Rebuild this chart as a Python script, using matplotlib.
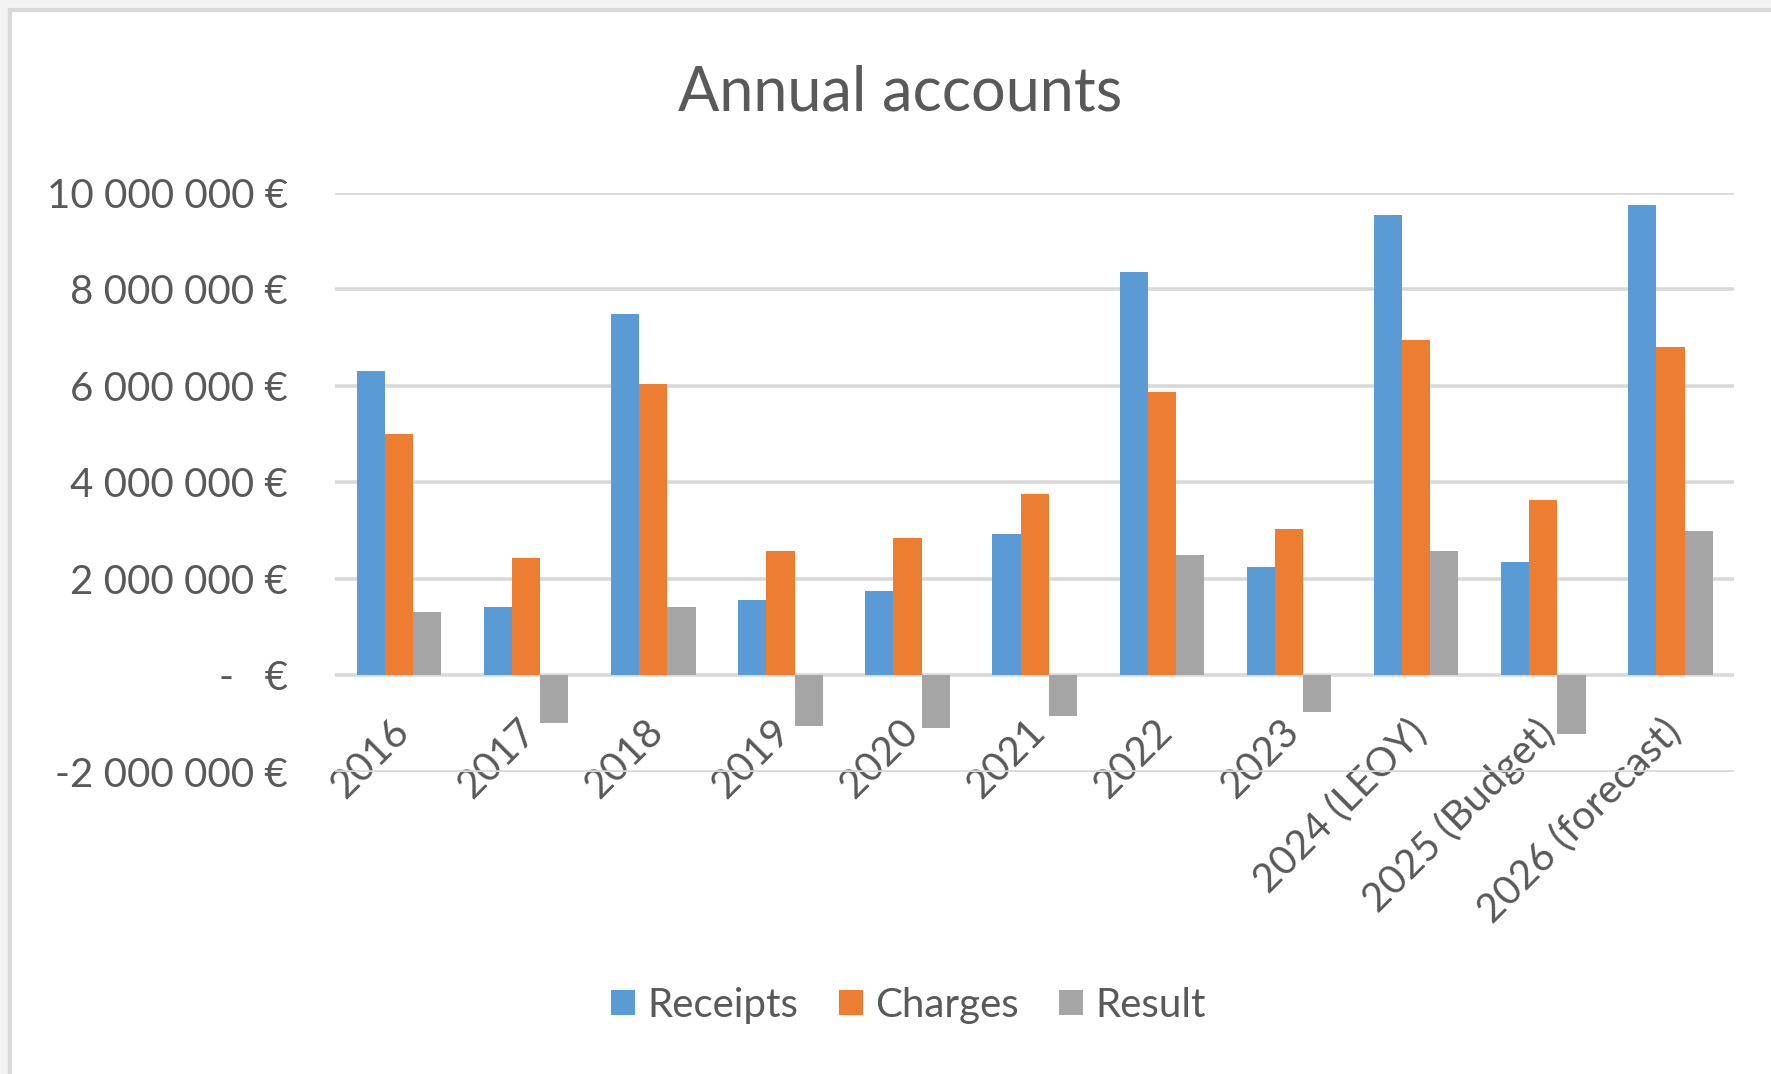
import matplotlib.pyplot as plt
from matplotlib.patches import Rectangle
from matplotlib.transforms import ScaledTranslation
import numpy as np

# data (euros)
categories = ['2016', '2017', '2018', '2019', '2020', '2021', '2022', '2023',
              '2024 (LEOY)', '2025 (Budget)', '2026 (forecast)']
receipts = [6310000, 1410000, 7500000, 1560000, 1760000, 2930000, 8370000,
            2250000, 9550000, 2350000, 9760000]
charges = [5000000, 2440000, 6050000, 2580000, 2840000, 3760000, 5870000,
           3030000, 6960000, 3630000, 6810000]
result = [1310000, -990000, 1410000, -1040000, -1090000, -840000, 2500000,
          -750000, 2580000, -1220000, 2990000]
y_ticks = [-2000000, 0, 2000000, 4000000, 6000000, 8000000, 10000000]
y_labels = ['-2 000 000 €', '-   €', '2 000 000 €', '4 000 000 €',
            '6 000 000 €', '8 000 000 €', '10 000 000 €']

plt.rcParams['font.family'] = ['Lato', 'DejaVu Sans']
text_color = '#595959'
grid_color = '#d9d9d9'

fig = plt.figure(figsize=(17.71, 10.74), dpi=100, facecolor='#f3f3f3')
# white chart area with grey frame on top/left
fig.patches.append(Rectangle((10 / 1771, -0.05), 1.1, 1 - 10 / 1074 + 0.05,
                             transform=fig.transFigure, facecolor='white',
                             edgecolor=grid_color, linewidth=3, zorder=-10))

ax = fig.add_axes([0.1894, 0.2812, 0.7897, 0.5391])
ax.set_facecolor('none')

x = np.arange(len(categories))
w = 0.222
ax.bar(x - w, receipts, w, color='#5b9bd5', label='Receipts', zorder=3)
ax.bar(x, charges, w, color='#ed7d31', label='Charges', zorder=3)
ax.bar(x + w, result, w, color='#a5a5a5', label='Result', zorder=3)

ax.set_xlim(-0.5, len(categories) - 0.5)
ax.set_ylim(-2000000, 10000000)

ax.set_yticks(y_ticks)
ax.set_yticklabels(y_labels)
ax.yaxis.grid(True, color=grid_color, linewidth=2.6, zorder=1)
ax.set_axisbelow(True)

for s in ax.spines.values():
    s.set_visible(False)
ax.spines['bottom'].set_position(('data', 0))

ax.set_xticks(x)
ax.set_xticklabels(categories, rotation=45, ha='right', rotation_mode='anchor')
ax.tick_params(axis='x', length=0, pad=27, labelsize=29, labelcolor=text_color)
ax.tick_params(axis='y', length=0, pad=34, labelsize=29, labelcolor=text_color)
shift = ScaledTranslation(-9 / 100, 0, fig.dpi_scale_trans)
for lab in ax.get_xticklabels():
    lab.set_transform(lab.get_transform() + shift)

fig.text(0.508, 0.913, 'Annual accounts', ha='center', va='center',
         fontsize=44, color=text_color)

fig.legend(loc='center', bbox_to_anchor=(0.513, 0.064), ncol=3, frameon=False,
           fontsize=29, labelcolor=text_color, handlelength=0.6,
           handleheight=0.6, handletextpad=0.3, columnspacing=1.0)

fig.savefig('out.png', dpi=100, facecolor=fig.get_facecolor())
